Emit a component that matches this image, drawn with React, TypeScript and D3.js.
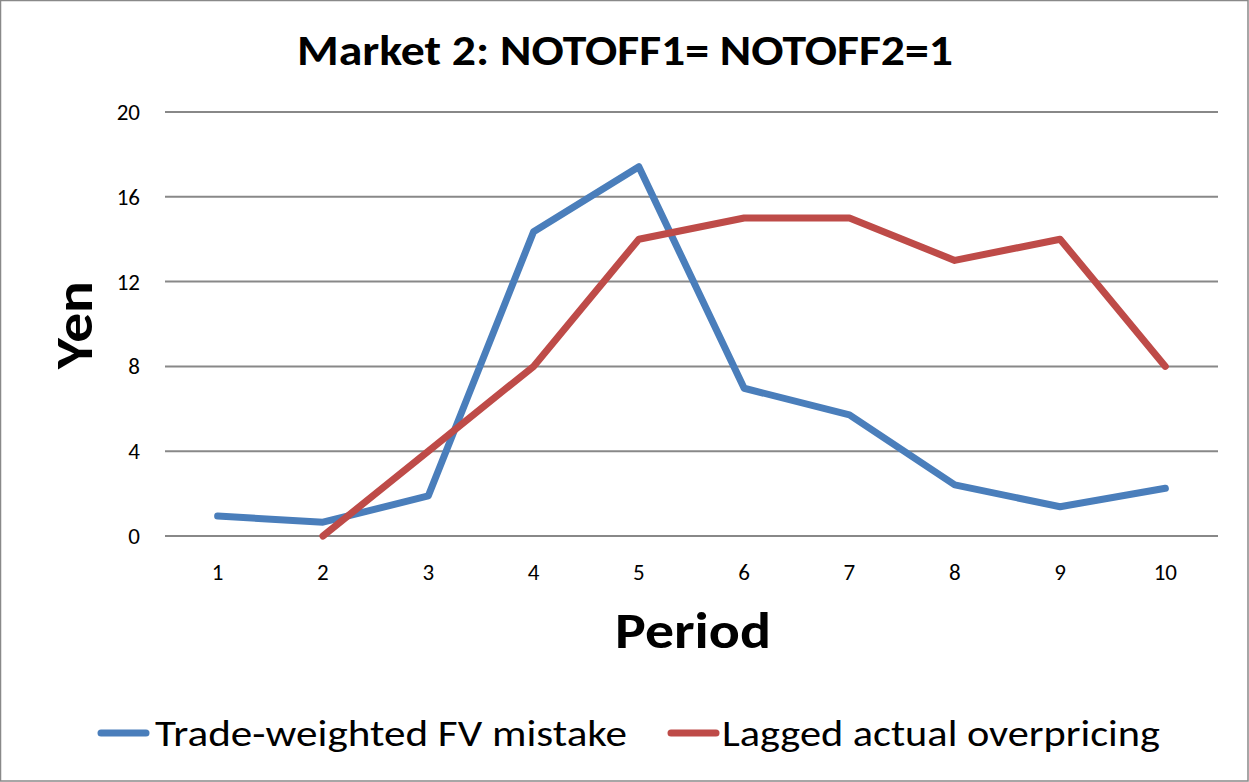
import React from 'react';
import * as d3 from 'd3';

const periods = [1, 2, 3, 4, 5, 6, 7, 8, 9, 10];
const fvMistake = [0.94, 0.65, 1.89, 14.35, 17.42, 6.97, 5.71, 2.41, 1.38, 2.25];
const overpricing: (number | null)[] = [null, 0, 4, 8, 14, 15, 15, 13, 14, 8];
const yTicks = [0, 4, 8, 12, 16, 20];
const seriesNames = ['Trade-weighted FV mistake', 'Lagged actual overpricing'];
const colors = ['#4A7EBB', '#BE4B48'];

const width = 1249;
const height = 782;
const margin = { top: 112, right: 31, bottom: 246, left: 165 };

export default function App() {
  const innerW = width - margin.left - margin.right;
  const innerH = height - margin.top - margin.bottom;

  const x = d3.scaleBand<number>().domain(periods).range([0, innerW]);
  const y = d3.scaleLinear().domain([0, 20]).range([innerH, 0]);
  const cx = (p: number) => (x(p) as number) + x.bandwidth() / 2;

  const line = d3.line<[number, number | null]>()
    .defined(d => d[1] != null)
    .x(d => cx(d[0]))
    .y(d => y(d[1] as number));

  const series = [fvMistake, overpricing];
  const font = 'Calibri, Carlito, "Open Sans", sans-serif';

  return (
    <svg width={width} height={height} style={{ position: 'absolute', left: 0, top: 0 }}>
      <rect x={0.5} y={0.5} width={width - 1.5} height={height - 1.5} fill="#fff" stroke="#898989" strokeWidth={1.5} />
      <text x={625} y={65} textAnchor="middle" fontFamily={font} fontWeight="bold" fontSize={42}
        textLength={656} lengthAdjust="spacingAndGlyphs">Market 2: NOTOFF1= NOTOFF2=1</text>
      <g transform={`translate(${margin.left},${margin.top})`}>
        {yTicks.map(t => (
          <g key={t}>
            <line x1={0} x2={innerW} y1={y(t)} y2={y(t)} stroke="#888" strokeWidth={2} />
            <text x={-25} y={y(t) + 8} textAnchor="end" fontFamily={font} fontSize={23} fill="#000">{t}</text>
          </g>
        ))}
        {periods.map(p => (
          <text key={p} x={cx(p)} y={innerH + 44} textAnchor="middle" fontFamily={font} fontSize={23} fill="#000">{p}</text>
        ))}
        {series.map((s, i) => (
          <path key={i} d={line(periods.map((p, j) => [p, s[j]] as [number, number | null])) || ''}
            fill="none" stroke={colors[i]} strokeWidth={7} strokeLinejoin="round" strokeLinecap="round" />
        ))}
      </g>
      <text transform="translate(92,325) rotate(-90)" textAnchor="middle" fontFamily={font} fontWeight="bold"
        fontSize={52} textLength={88} lengthAdjust="spacingAndGlyphs">Yen</text>
      <text x={693} y={648} textAnchor="middle" fontFamily={font} fontWeight="bold" fontSize={50}
        textLength={156} lengthAdjust="spacingAndGlyphs">Period</text>
      <g>
        <line x1={101} x2={146} y1={733} y2={733} stroke={colors[0]} strokeWidth={7} strokeLinecap="round" />
        <text x={155} y={746} fontFamily={font} fontSize={37} textLength={472} lengthAdjust="spacingAndGlyphs">{seriesNames[0]}</text>
        <line x1={671} x2={716} y1={733} y2={733} stroke={colors[1]} strokeWidth={7} strokeLinecap="round" />
        <text x={722} y={746} fontFamily={font} fontSize={37} textLength={438} lengthAdjust="spacingAndGlyphs">{seriesNames[1]}</text>
      </g>
    </svg>
  );
}
